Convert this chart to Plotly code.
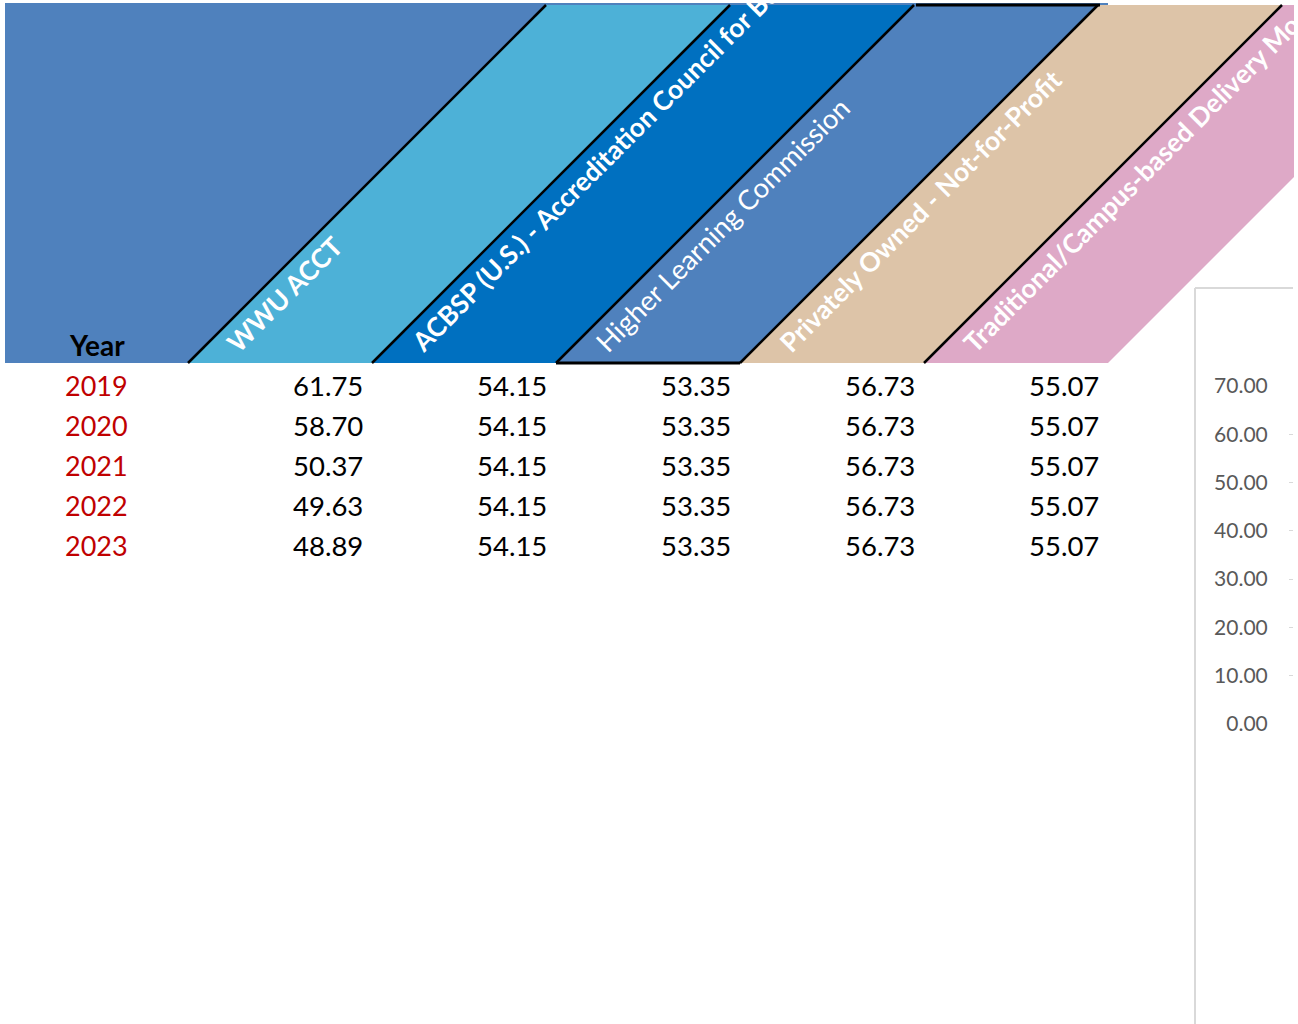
import plotly.graph_objects as go

# ---------------- data ----------------
years = [2019, 2020, 2021, 2022, 2023]
series_names = [
    "WWU ACCT",
    "ACBSP (U.S.) - Accreditation Council for Business Schools and Programs",
    "Higher Learning Commission",
    "Privately Owned - Not-for-Profit",
    "Traditional/Campus-based Delivery Model",
]
wwu_acct = [61.75, 58.70, 50.37, 49.63, 48.89]
acbsp = [54.15, 54.15, 54.15, 54.15, 54.15]
hlc = [53.35, 53.35, 53.35, 53.35, 53.35]
private_nfp = [56.73, 56.73, 56.73, 56.73, 56.73]
traditional = [55.07, 55.07, 55.07, 55.07, 55.07]
axis_ticks = [0, 10, 20, 30, 40, 50, 60, 70]

series_values = [wwu_acct, acbsp, hlc, private_nfp, traditional]

# ---------------- styles ----------------
W, H = 1298, 1024
FONT = "Lato"
band_colors = ["#4DB1D7", "#0070C0", "#4F81BD", "#DDC4A8", "#DEA9C7"]
band_bold = [True, True, False, True, True]
year_col_color = "#4F81BD"

hdr_top, hdr_bot = 5, 363
hdr_h = hdr_bot - hdr_top
col_left = 5
col_w = 184
first_b = 188
bounds = [first_b + col_w * k for k in range(len(series_names) + 1)]
clip_x = 1294
row_y0, row_h = 385, 40

fig = go.Figure()

# invisible helper traces so both coordinate frames are drawn
fig.add_trace(go.Scatter(x=[0], y=[0], mode="markers", marker=dict(opacity=0),
                         hoverinfo="skip", showlegend=False))
fig.add_trace(go.Scatter(x=[0.5], y=[0], xaxis="x2", yaxis="y2", mode="markers",
                         marker=dict(opacity=0), hoverinfo="skip", showlegend=False))

shapes = []
# Year header region
shapes.append(dict(type="path", xref="x", yref="y", layer="below", line=dict(width=0),
                   fillcolor=year_col_color,
                   path=f"M {col_left},{hdr_bot} L {col_left},{hdr_top} L {bounds[0]+hdr_h},{hdr_top} L {bounds[0]},{hdr_bot} Z"))
# slanted bands
for j, c in enumerate(band_colors):
    b0, b1 = bounds[j], bounds[j + 1]
    if j == len(band_colors) - 1:
        yc = hdr_bot - (clip_x - b1)
        p = f"M {b0},{hdr_bot} L {b0+hdr_h},{hdr_top} L {clip_x},{hdr_top} L {clip_x},{yc} L {b1},{hdr_bot} Z"
    else:
        p = f"M {b0},{hdr_bot} L {b0+hdr_h},{hdr_top} L {b1+hdr_h},{hdr_top} L {b1},{hdr_bot} Z"
    shapes.append(dict(type="path", xref="x", yref="y", layer="below", line=dict(width=0),
                       fillcolor=c, path=p))
# top border line
shapes.append(dict(type="line", xref="x", yref="y", x0=col_left, x1=bounds[-1], y0=4, y1=4,
                   line=dict(color="#4F81BD", width=2)))
# diagonal black separators
for k in range(len(series_names)):
    b = bounds[k]
    shapes.append(dict(type="line", xref="x", yref="y", x0=b, y0=hdr_bot, x1=b + hdr_h, y1=hdr_top,
                       line=dict(color="black", width=2.5)))
# black top & bottom borders of the Higher Learning band
shapes.append(dict(type="line", xref="x", yref="y", x0=bounds[2], x1=bounds[3], y0=hdr_bot, y1=hdr_bot,
                   line=dict(color="black", width=3)))
shapes.append(dict(type="line", xref="x", yref="y", x0=bounds[2] + hdr_h + 2, x1=bounds[3] + hdr_h + 2,
                   y0=hdr_top, y1=hdr_top, line=dict(color="black", width=3)))
# chart border (right, cut off)
shapes.append(dict(type="line", xref="x", yref="y", x0=1195, x1=1293, y0=288, y1=288,
                   line=dict(color="#D9D9D9", width=2)))
shapes.append(dict(type="line", xref="x", yref="y", x0=1195, x1=1195, y0=288, y1=1024,
                   line=dict(color="#D9D9D9", width=2)))

annotations = []
# "Year" header
annotations.append(dict(x=97, y=345, xref="x", yref="y", text="<b>Year</b>", showarrow=False,
                        font=dict(family=FONT, size=28, color="black"), xanchor="center", yanchor="middle"))
# slanted header labels
for j, name in enumerate(series_names):
    txt = f"<b>{name}</b>" if band_bold[j] else name
    size = 26.5 if band_bold[j] else 27.5
    annotations.append(dict(x=bounds[j] + 30, y=361, xref="x", yref="y", text=txt, showarrow=False,
                            textangle=-45, xanchor="left", yanchor="bottom",
                            font=dict(family=FONT, size=size, color="white")))
# table body
for i, yr in enumerate(years):
    yy = row_y0 + row_h * i
    annotations.append(dict(x=96, y=yy, xref="x", yref="y", text=str(yr), showarrow=False,
                            font=dict(family=FONT, size=27, color="#C00000"),
                            xanchor="center", yanchor="middle"))
    for j, vals in enumerate(series_values):
        annotations.append(dict(x=bounds[j + 1] - 7, y=yy, xref="x", yref="y", text=f"{vals[i]:.2f}",
                                showarrow=False, font=dict(family=FONT, size=27.5, color="black"),
                                xanchor="right", yanchor="middle"))

fig.update_layout(
    width=W, height=H,
    margin=dict(l=0, r=0, t=0, b=0, pad=0, autoexpand=False),
    paper_bgcolor="white", plot_bgcolor="rgba(0,0,0,0)",
    showlegend=False,
    xaxis=dict(range=[0, W], domain=[0, 1], visible=False, fixedrange=True, automargin=False),
    yaxis=dict(range=[H, 0], domain=[0, 1], visible=False, fixedrange=True, automargin=False),
    xaxis2=dict(domain=[1289 / W, 1293 / W], range=[0, 1], visible=True, showticklabels=False,
                showgrid=False, zeroline=False, showline=False, ticks="", anchor="y2",
                automargin=False),
    yaxis2=dict(domain=[1 - 724 / H, 1 - 386 / H], range=[0, 70], anchor="x2", automargin=False,
                tickvals=axis_ticks, ticktext=[f"{v:.2f}" for v in axis_ticks],
                showgrid=True, gridcolor="#D9D9D9", gridwidth=1, zeroline=False, showline=False,
                ticks="outside", ticklen=16, tickcolor="rgba(0,0,0,0)",
                tickfont=dict(family=FONT, size=21, color="#595959")),
    shapes=shapes,
    annotations=annotations,
)

fig.write_html("out.html")
